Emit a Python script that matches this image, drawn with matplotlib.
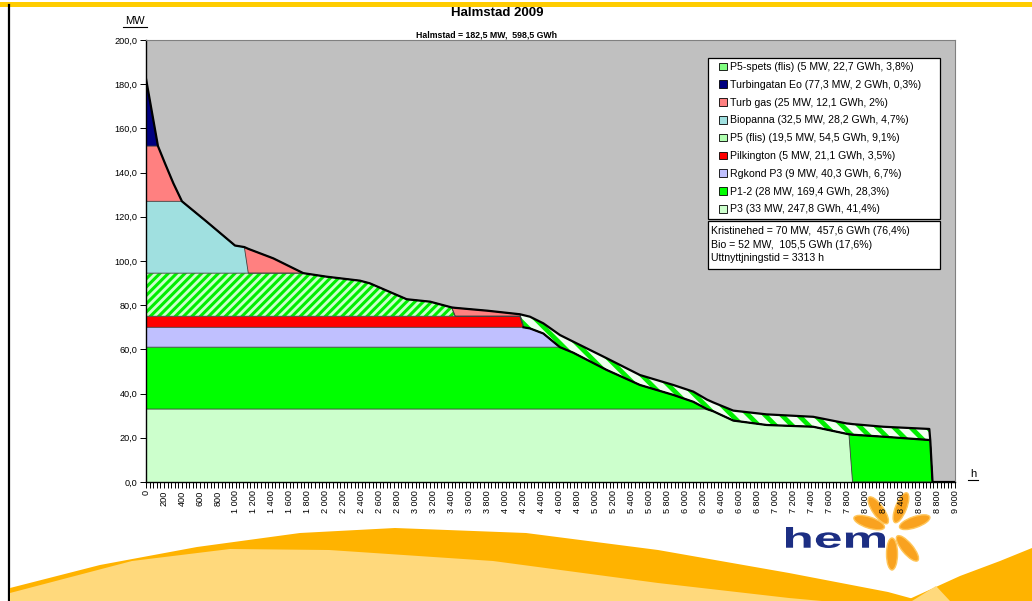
import numpy as np
import matplotlib.pyplot as plt
from matplotlib.patches import Patch, Rectangle, Polygon, Ellipse, PathPatch
from matplotlib.lines import Line2D
from matplotlib.textpath import TextPath
from matplotlib.font_manager import FontProperties
from matplotlib.transforms import Affine2D, IdentityTransform
from matplotlib.ticker import MultipleLocator, FuncFormatter

plt.rcParams['font.family'] = ['Liberation Sans', 'DejaVu Sans']
plt.rcParams['hatch.linewidth'] = 2.4

W, H = 1032, 601

# varaktighet (h) och effekt per anläggning (MW)
hours = [0, 133, 211, 304, 400, 675, 990, 1094, 1138, 1416, 1750, 2010, 2380, 2490,
         2900, 3160, 3400, 3440, 3800, 4160, 4200, 4271, 4420, 4605, 4753, 5125, 5495,
         5866, 6088, 6240, 6311, 6533, 6904, 7423, 7794, 7820, 7860, 8202, 8714, 8725,
         8750, 9000]
p3 = [33.0] * 30 + [32.0, 27.8, 25.8, 25.0, 21.8, 21.6] + [0.0] * 6
p12 = [28.0] * 24 + [25.5, 17.7, 10.9, 6.4, 3.3] + [0.0] * 7 + [21.4, 20.5, 19.0, 18.8, 0.0, 0.0]
rgkond = [9.0] * 21 + [8.5, 6.2] + [0.0] * 19
pilkington = [5.0] * 20 + [0.0] * 22
p5_flis = [19.5] * 11 + [17.9, 16.1, 14.9, 7.7, 6.6, 4.0] + [0.0] * 25
biopanna = [32.5] * 5 + [23.3, 12.5, 11.8] + [0.0] * 34
turb_gas = [25.0, 25.0, 17.2, 8.2] + [0.0] * 4 + [11.0, 6.7] + [0.0] * 7 + [3.8, 2.5, 0.9] + [0.0] * 22
turbingatan = [30.5] + [0.0] * 41
p5_spets = [0.0] * 20 + [5.5, 5.3, 4.6, 5.5, 5.0, 5.3, 4.5, 4.5, 4.6, 4.3, 4.0, 4.5, 4.8,
                         4.5, 4.7, 4.8, 4.8, 4.5, 5.0] + [0.0] * 3

labels = ['P5-spets (flis) (5 MW, 22,7 GWh, 3,8%)',
          'Turbingatan Eo (77,3 MW, 2 GWh, 0,3%)',
          'Turb gas (25 MW, 12,1 GWh, 2%)',
          'Biopanna (32,5 MW, 28,2 GWh, 4,7%)',
          'P5 (flis) (19,5 MW, 54,5 GWh, 9,1%)',
          'Pilkington (5 MW, 21,1 GWh, 3,5%)',
          'Rgkond P3 (9 MW, 40,3 GWh, 6,7%)',
          'P1-2 (28 MW, 169,4 GWh, 28,3%)',
          'P3 (33 MW, 247,8 GWh, 41,4%)']
info = ['Kristinehed = 70 MW,  457,6 GWh (76,4%)',
        'Bio = 52 MW,  105,5 GWh (17,6%)',
        'Uttnyttjningstid = 3313 h']


def fx(x):
    return x / W


def fy(y):
    return 1 - y / H


fig = plt.figure(figsize=(W / 100, H / 100), dpi=100)

# bakgrund: bildspelsdekor
fig.add_artist(Rectangle((0, fy(7)), 1, 5 / H, transform=fig.transFigure,
                         facecolor='#FFCC00', lw=0, zorder=-2))
fig.add_artist(Line2D([fx(9), fx(9)], [fy(5), 0], transform=fig.transFigure,
                      color='black', lw=1.6, zorder=-2))
dark = [(10, 588), (100, 565), (197, 547), (300, 533), (395, 528), (526, 533), (658, 550),
        (789, 573), (888, 592), (921, 601), (10, 601)]
light = [(10, 593), (132, 561), (230, 549), (329, 550), (493, 561), (658, 583), (789, 598),
         (822, 601), (10, 601)]
right = [(905, 601), (960, 576), (1000, 561), (1032, 548), (1032, 601)]
right_l = [(912, 601), (936, 586), (950, 601)]
for pts, c in [(dark, '#FFB300'), (light, '#FFD97C'), (right, '#FFB300'), (right_l, '#FFD97C')]:
    fig.add_artist(Polygon([(fx(a), fy(b)) for a, b in pts], closed=True,
                           transform=fig.transFigure, facecolor=c, lw=0, zorder=-1))

# hem-logga
tp = TextPath((0, 0), 'hem', size=1, prop=FontProperties(family='Liberation Sans', weight='bold'))
ext = tp.get_extents()
sx, sy = 99 / ext.width, 21 / ext.height
tr = Affine2D().scale(sx, sy).translate(786 - ext.x0 * sx, (H - 548) - ext.y0 * sy)
fig.add_artist(PathPatch(tp, transform=tr, facecolor='#1C2E83', lw=0, zorder=-1))
cx, cy = 892, H - 530
for ang in [125, 68, 19, -50, -90, 162]:
    a = np.deg2rad(ang)
    fig.add_artist(Ellipse((cx + 24 * np.cos(a), cy + 24 * np.sin(a)), 32, 11, angle=ang,
                           transform=IdentityTransform(), facecolor='#F9A21F',
                           edgecolor='#FFC65A', lw=1.0, zorder=-1))

ax = fig.add_axes([fx(146), fy(482), 809 / W, 442 / H])
ax.set_facecolor('#C0C0C0')

layers = [p3, p12, rgkond, pilkington, p5_flis, biopanna, turb_gas, turbingatan, p5_spets]
colors = ['#CCFFCC', '#00FF00', '#C0C0FF', '#FF0000', '#CCFFCC', '#A0E0E0', '#FF8080',
          '#000080', '#F0FFF0']
polys = ax.stackplot(hours, layers, colors=colors, linewidth=0)
for i, hatch, hlw in [(4, '////', 2.2), (8, '\\\\', 3.4)]:
    polys[i].set_hatch(hatch)
    polys[i].set_edgecolor('#00EE00')
    polys[i].set_linewidth(0)
    if hasattr(polys[i], 'set_hatch_linewidth'):
        polys[i].set_hatch_linewidth(hlw)

tops = np.cumsum(np.array(layers, dtype=float), axis=0)
for t in tops[:-1]:
    ax.plot(hours, t, color='#404040', lw=0.6)
lower = np.where(np.array(p5_spets) > 0, tops[7], np.nan)
ax.plot(hours, lower, color='black', lw=1.6)
ax.plot(hours, tops[-1], color='black', lw=1.6)

ax.set_xlim(0, 9000)
ax.set_ylim(0, 200)
ax.yaxis.set_major_locator(MultipleLocator(20))
ax.yaxis.set_major_formatter(FuncFormatter(lambda v, p: f'{v:.1f}'.replace('.', ',')))
ax.xaxis.set_major_locator(MultipleLocator(200))
ax.xaxis.set_minor_locator(MultipleLocator(40))
ax.xaxis.set_major_formatter(FuncFormatter(lambda v, p: f'{int(v):,}'.replace(',', ' ')))
ax.tick_params(axis='both', which='both', direction='out', length=4, width=0.7,
               labelsize=6.6, pad=2)
plt.setp(ax.get_xticklabels(), rotation=90)
for s in ['left', 'bottom']:
    ax.spines[s].set_color('black')
    ax.spines[s].set_linewidth(1)
for s in ['top', 'right']:
    ax.spines[s].set_color('#808080')
    ax.spines[s].set_linewidth(0.8)

# titlar och axeltexter
fig.text(fx(497), fy(13), 'Halmstad 2009', ha='center', va='center', fontsize=9.5,
         fontweight='bold')
fig.text(fx(487), fy(35), 'Halmstad = 182,5 MW,  598,5 GWh', ha='center', va='center',
         fontsize=6.3, fontweight='bold')
fig.text(fx(135), fy(21), 'MW', ha='center', va='center', fontsize=8)
fig.add_artist(Line2D([fx(123), fx(147)], [fy(27), fy(27)], transform=fig.transFigure,
                      color='black', lw=0.8))
fig.text(fx(973), fy(474), 'h', ha='center', va='center', fontsize=8)
fig.add_artist(Line2D([fx(968), fx(978)], [fy(480), fy(480)], transform=fig.transFigure,
                      color='black', lw=0.8))

# teckenförklaring
fig.add_artist(Rectangle((fx(708), fy(219)), 232 / W, 161 / H, transform=fig.transFigure,
                         facecolor='white', edgecolor='black', lw=0.9, zorder=3))
fig.add_artist(Rectangle((fx(708), fy(269)), 232 / W, 48 / H, transform=fig.transFigure,
                         facecolor='white', edgecolor='black', lw=0.9, zorder=3))
leg_colors = ['#80FF80', '#000080', '#FF8080', '#A0E0E0', '#B0FFB0', '#FF0000', '#C0C0FF',
              '#00FF00', '#CCFFCC']
handles = [Patch(facecolor=c, edgecolor='black', lw=0.6) for c in leg_colors]
fig.legend(handles, labels, loc='upper left', bbox_to_anchor=(fx(719), fy(62)),
           frameon=False, fontsize=7.6, handlelength=0.72, handleheight=0.72,
           handletextpad=0.3, labelspacing=0.74, borderpad=0, borderaxespad=0)
for i, t in enumerate(info):
    fig.text(fx(711), fy(231 + 13.5 * i), t, ha='left', va='center', fontsize=7.6, zorder=4)

fig.savefig('out.png', dpi=100)
